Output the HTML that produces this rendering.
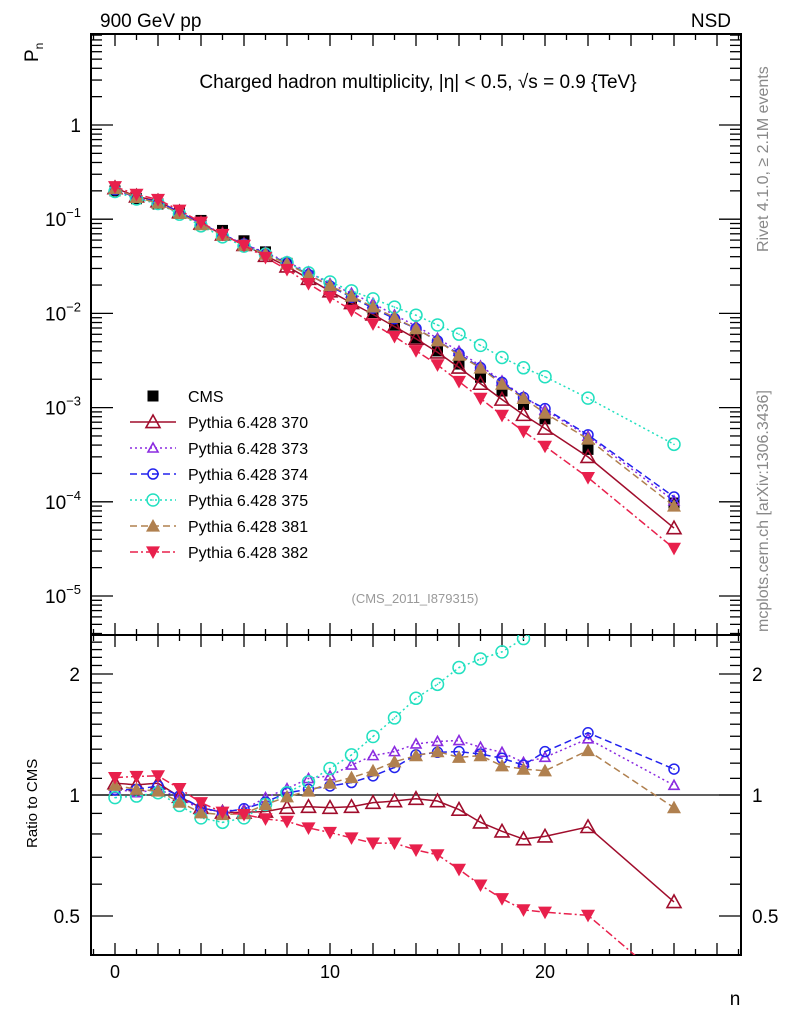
<!DOCTYPE html>
<html><head><meta charset="utf-8"><style>
html,body{margin:0;padding:0;background:#fff;}
svg{display:block;font-family:"Liberation Sans",sans-serif;}
</style></head><body>
<svg id="chart" width="786" height="1024" viewBox="0 0 786 1024" xmlns="http://www.w3.org/2000/svg">
<text x="100" y="27" font-size="19">900 GeV pp</text>
<text x="731" y="27" font-size="19" text-anchor="end">NSD</text>
<text x="418" y="88" font-size="19" text-anchor="middle">Charged hadron multiplicity, |η| &lt; 0.5, √s = 0.9 {TeV}</text>
<text x="415" y="603" font-size="13" fill="#999" text-anchor="middle">(CMS_2011_I879315)</text>
<text transform="translate(768,252) rotate(-90)" font-size="16" fill="#888">Rivet 4.1.0, ≥ 2.1M events</text>
<text transform="translate(768,632) rotate(-90)" font-size="16" fill="#888">mcplots.cern.ch [arXiv:1306.3436]</text>
<text transform="translate(38,62) rotate(-90)" font-size="19">P<tspan font-size="12" dy="5">n</tspan></text>
<text transform="translate(37,848) rotate(-90)" font-size="15">Ratio to CMS</text>
<text x="735" y="1005" font-size="19" text-anchor="middle">n</text>
<g id="g"></g>
</svg>
<script>
const nVals=[0,1,2,3,4,5,6,7,8,9,10,11,12,13,14,15,16,17,18,19,20,22,26];
const cms=[0.200,0.165,0.145,0.120,0.097,0.076,0.059,0.045,0.034,0.025,0.0185,0.0138,0.0102,0.0075,0.0055,0.0040,0.0029,0.0021,0.0015,0.00108,0.00076,0.00036,0.000097];
const r370=[1.07,1.06,1.07,0.99,0.93,0.905,0.905,0.91,0.93,0.935,0.93,0.935,0.957,0.966,0.979,0.966,0.92,0.855,0.812,0.777,0.789,0.833,0.542];
const r373=[1.037,1.013,1.033,0.985,0.92,0.912,0.92,0.985,1.037,1.099,1.116,1.187,1.253,1.282,1.34,1.359,1.366,1.315,1.277,1.205,1.241,1.38,1.057];
const r374=[1.029,1.033,1.053,0.994,0.93,0.906,0.924,0.96,1.013,1.033,1.053,1.074,1.116,1.171,1.258,1.277,1.282,1.265,1.234,1.187,1.282,1.428,1.16];
const r375=[0.985,0.994,1.013,0.942,0.877,0.855,0.877,0.947,1.013,1.078,1.164,1.258,1.398,1.555,1.74,1.885,2.075,2.18,2.27,2.45,2.8,3.5,4.2];
const r381=[1.057,1.033,1.023,0.96,0.903,0.894,0.899,0.947,0.99,1.023,1.07,1.105,1.149,1.21,1.253,1.282,1.241,1.253,1.182,1.16,1.149,1.29,0.93];
const r382=[1.105,1.112,1.116,1.037,0.957,0.906,0.894,0.872,0.86,0.828,0.807,0.782,0.759,0.759,0.73,0.71,0.653,0.597,0.552,0.518,0.511,0.502,0.33];
const topTickLabels=["1","10","10","10","10","10"];
const topTickExps=[0,-1,-2,-3,-4,-5];
const ratioTicks=[0.5,1,2];
const xTicks=[0,10,20];

const NS="http://www.w3.org/2000/svg";
const G=document.getElementById('g');
const L=91,R=741,T=34,MID=635,B=955;
const X=n=>115+21.5*n;
const Y=p=>125-94.2*Math.log10(p);
const YR=r=>795-402*Math.log10(r);
function mk(tag,at,parent){const e=document.createElementNS(NS,tag);for(const k in at)e.setAttribute(k,at[k]);(parent||G).appendChild(e);return e;}

const defs=mk('defs',{});
const c1=mk('clipPath',{id:'ctop'},defs);mk('rect',{x:L,y:T,width:R-L,height:MID-T},c1);
const c2=mk('clipPath',{id:'cbot'},defs);mk('rect',{x:L,y:MID,width:R-L,height:B-MID},c2);

let f=mk('rect',{x:L,y:T,width:R-L,height:MID-T,fill:'none',stroke:'#000','stroke-width':2});


f=mk('rect',{x:L,y:MID,width:R-L,height:B-MID,fill:'none',stroke:'#000','stroke-width':2});



for(let n=-1;n<=29;n++){
  const major=n%2===0;const len=major?12:6;const x=X(n);
  if(x<L||x>R)continue;
  for(const [yb,dir] of [[MID,-1],[T,1],[B,-1],[MID,1]]){
    mk('line',{x1:x,x2:x,y1:yb,y2:yb+dir*len,stroke:'#000','stroke-width':1.3});
  }
}
xTicks.forEach(v=>{const t=mk('text',{x:X(v),y:978,'font-size':18,'text-anchor':'middle'});t.textContent=v;

});

for(let e=-6;e<=0;e++){for(let m=1;m<=9;m++){const p=m*Math.pow(10,e);const y=Y(p);if(y<T||y>MID)continue;
  const len=m===1?22:11;
  mk('line',{x1:L,x2:L+len,y1:y,y2:y,stroke:'#000','stroke-width':1.3});
  mk('line',{x1:R,x2:R-len,y1:y,y2:y,stroke:'#000','stroke-width':1.3});}}
topTickExps.forEach((e,i)=>{const y=Y(Math.pow(10,e));
  const t=mk('text',{x:81,y:y+7,'font-size':19,'text-anchor':'end'});
  
  
  t.textContent=topTickLabels[i];
  if(e!==0){const s=mk('tspan',{'font-size':13,dy:-9},t);s.textContent='−'+(-e);}
});

for(let r=0.4;r<=2.51;r+=0.1){const rr=Math.round(r*10)/10;const y=YR(rr);if(y<MID||y>B)continue;
  const len=(rr===0.5||rr===1||rr===2)?22:11;
  mk('line',{x1:L,x2:L+len,y1:y,y2:y,stroke:'#000','stroke-width':1.3});
  mk('line',{x1:R,x2:R-len,y1:y,y2:y,stroke:'#000','stroke-width':1.3});}
ratioTicks.forEach(v=>{const y=YR(v);
  let t=mk('text',{x:80,y:y+7,'font-size':19,'text-anchor':'end'});t.textContent=v;
  
  
  t=mk('text',{x:752,y:y+7,'font-size':19});t.textContent=v;
  
  
});
let ul=mk('line',{x1:L,x2:R,y1:YR(1),y2:YR(1),stroke:'#000','stroke-width':1.3});



const series=[
 {name:'370',r:r370,color:'#a00d2c',dash:'',marker:'tri-open',size:7},
 {name:'373',r:r373,color:'#8b2be0',dash:'2,3',marker:'tri-open',size:5},
 {name:'374',r:r374,color:'#2222ee',dash:'7,4',marker:'circ-open',size:5},
 {name:'375',r:r375,color:'#22e0c0',dash:'2,3',marker:'circ-open',size:6},
 {name:'381',r:r381,color:'#b0804f',dash:'7,4',marker:'tri-fill',size:7},
 {name:'382',r:r382,color:'#e8204c',dash:'8,3,2,3',marker:'tri-down',size:7}
];
function marker(parent,type,x,y,c,s){
  if(type==='tri-open')return mk('path',{d:`M${x},${y-s}L${x+s},${y+s*0.8}L${x-s},${y+s*0.8}Z`,fill:'none',stroke:c,'stroke-width':1.6},parent);
  if(type==='tri-fill')return mk('path',{d:`M${x},${y-s}L${x+s},${y+s*0.8}L${x-s},${y+s*0.8}Z`,fill:c},parent);
  if(type==='tri-down')return mk('path',{d:`M${x},${y+s}L${x+s},${y-s*0.8}L${x-s},${y-s*0.8}Z`,fill:c},parent);
  if(type==='circ-open'){const g=mk('g',{},parent);mk('circle',{cx:x,cy:y,r:s,fill:'none',stroke:c,'stroke-width':1.5},g);mk('circle',{cx:x,cy:y,r:0.8,fill:c},g);return g;}
  if(type==='sq')return mk('rect',{x:x-5.5,y:y-5.5,width:11,height:11,fill:'#000'},parent);
}
const topG=mk('g',{'clip-path':'url(#ctop)'});
const botG=mk('g',{'clip-path':'url(#cbot)'});
const cmsG=mk('g',{},topG);


nVals.forEach((n,i)=>marker(cmsG,'sq',X(n),Y(cms[i]),'#000'));
series.forEach(s=>{
  const gt=mk('g',{},topG);
  
  
  const pts=nVals.map((n,i)=>[X(n),Y(cms[i]*s.r[i])]);
  mk('polyline',{points:pts.map(p=>p.join(',')).join(' '),fill:'none',stroke:s.color,'stroke-width':1.5,'stroke-dasharray':s.dash},gt);
  pts.forEach(p=>marker(gt,s.marker,p[0],p[1],s.color,s.size));
  const gb=mk('g',{},botG);
  
  
  const pr=nVals.map((n,i)=>[X(n),YR(s.r[i])]);
  mk('polyline',{points:pr.map(p=>p.join(',')).join(' '),fill:'none',stroke:s.color,'stroke-width':1.5,'stroke-dasharray':s.dash},gb);
  pr.forEach(p=>marker(gb,s.marker,p[0],p[1],s.color,s.size));
});
const lg=mk('g',{});


const ents=[{name:'CMS'}].concat(series);
ents.forEach((s,i)=>{const y=396+26*i;
  const e=mk('g',{},lg);
  
  
  if(i===0)marker(e,'sq',153,y,'#000');
  else{mk('line',{x1:130,x2:176,y1:y,y2:y,stroke:s.color,'stroke-width':1.5,'stroke-dasharray':s.dash},e);marker(e,s.marker,153,y,s.color,s.size);}
  const t=mk('text',{x:188,y:y+6,'font-size':16},e);t.textContent=i===0?'CMS':'Pythia 6.428 '+s.name;
});
</script>
</body></html>
